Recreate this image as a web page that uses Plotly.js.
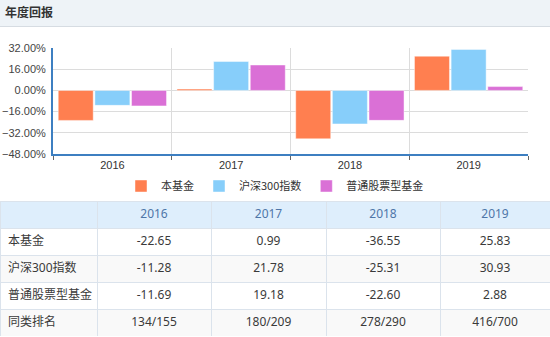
<!DOCTYPE html>
<html>
<head>
<meta charset="utf-8">
<script src="https://cdn.plot.ly/plotly-3.0.1.min.js"></script>
<style>
html,body{margin:0;padding:0;background:#fff;}
#chart{width:550px;height:337px;}
</style>
</head>
<body>
<div id="chart"></div>
<script>
const years = ['2016', '2017', '2018', '2019'];
const seriesNames = ['本基金', '沪深300指数', '普通股票型基金'];
const fund = [-22.65, 0.99, -36.55, 25.83];
const hs300 = [-11.28, 21.78, -25.31, 30.93];
const stockFunds = [-11.69, 19.18, -22.60, 2.88];
const rank = ['134/155', '180/209', '278/290', '416/700'];
const rowLabels = ['本基金', '沪深300指数', '普通股票型基金', '同类排名'];
const colors = ['#FF7F50', '#87CEFA', '#DA70D6'];

const W = 550, H = 337;
const py = v => 1 - v / H;
const px = v => v / W;
const FONT = 'Liberation Sans, Noto Sans CJK SC, sans-serif';
const CJK = 'Noto Sans CJK SC, Liberation Sans, sans-serif';
const CELLFONT = 'Noto Sans, Noto Sans CJK SC, sans-serif';

const seriesData = [fund, hs300, stockFunds];
const barTraces = seriesData.map((vals, i) => ({
  type: 'bar',
  name: seriesNames[i],
  x: years,
  y: vals,
  marker: { color: colors[i], line: { color: 'rgba(255,255,255,0.45)', width: 1 } },
  hoverinfo: 'x+y+name'
}));

const tableCols = [rowLabels].concat(years.map((y, i) => [
  fund[i].toFixed(2), hs300[i].toFixed(2), stockFunds[i].toFixed(2), rank[i]
]));
const rowFill = ['#ffffff', '#f9f9f9', '#ffffff', '#f9f9f9'];

const table = {
  type: 'table',
  domain: { x: [0, 1], y: [0, py(201)] },
  columnwidth: [97, 114, 115, 114, 110],
  header: {
    values: [''].concat(years),
    align: 'center',
    height: 27,
    fill: { color: '#deeefc' },
    line: { color: '#dbe3ec', width: 1 },
    font: { family: CELLFONT, size: 12, color: '#4e76a8' }
  },
  cells: {
    values: tableCols,
    align: ['left', 'center', 'center', 'center', 'center'],
    height: 27,
    fill: { color: tableCols.map(() => rowFill) },
    line: { color: '#dbe3ec', width: 1 },
    font: { family: CELLFONT, size: 12, color: '#3a3a3a' }
  }
};

const layout = {
  width: W, height: H,
  margin: { l: 0, r: 0, t: 0, b: 0 },
  paper_bgcolor: '#ffffff',
  plot_bgcolor: '#ffffff',
  font: { family: FONT, size: 11, color: '#333' },
  title: {
    text: '年度回报',
    x: px(5), xanchor: 'left', xref: 'paper',
    y: py(13), yanchor: 'middle', yref: 'paper',
    font: { family: CJK, size: 12, weight: 'bold', color: '#333' }
  },
  barmode: 'group',
  bargap: 0.074,
  bargroupgap: 0.045,
  xaxis: {
    domain: [px(53), px(528)],
    type: 'category',
    tickson: 'boundaries',
    ticks: 'outside',
    ticklen: 4,
    tickcolor: '#666',
    showgrid: true,
    gridcolor: '#dcdcdc',
    showline: true,
    linecolor: '#3d7fc1',
    linewidth: 2,
    tickfont: { family: FONT, size: 11, color: '#333' },
    fixedrange: true
  },
  yaxis: {
    domain: [py(154), py(48)],
    range: [-48, 32],
    tick0: 0,
    dtick: 16,
    tickformat: '.2f',
    ticksuffix: '%',
    showgrid: true,
    gridcolor: '#dcdcdc',
    zeroline: false,
    showline: true,
    linecolor: '#3d7fc1',
    linewidth: 2,
    ticklabelstandoff: 3,
    tickfont: { family: FONT, size: 11, color: '#444' },
    fixedrange: true
  },
  showlegend: true,
  legend: {
    orientation: 'h',
    x: 0.5, xanchor: 'center',
    y: py(186), yanchor: 'middle',
    font: { family: CJK, size: 11, color: '#333' },
    itemclick: false, itemdoubleclick: false
  },
  shapes: [
    { type: 'rect', xref: 'paper', yref: 'paper', x0: 0, x1: 1, y0: py(26), y1: 1,
      fillcolor: '#eef3f7', line: { width: 0 }, layer: 'below' },
    { type: 'line', xref: 'paper', yref: 'paper', x0: 0, x1: 1, y0: py(26.5), y1: py(26.5),
      line: { color: '#d6dce2', width: 1 } }
  ]
};

Plotly.newPlot('chart', barTraces.concat([table]), layout, { displayModeBar: false });
</script>
</body>
</html>
